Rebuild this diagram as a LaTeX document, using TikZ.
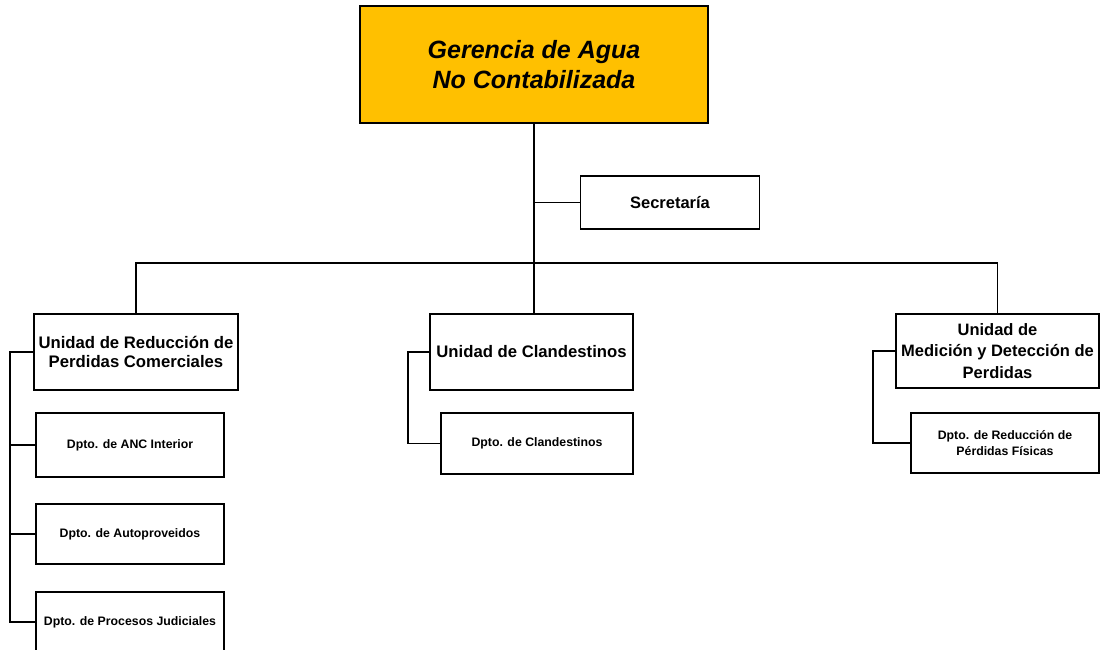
\documentclass[tikz,border=0pt]{standalone}
\usepackage{fontspec}
\setmainfont{Liberation Sans}
\definecolor{gold}{HTML}{FFC000}
\begin{document}
\begin{tikzpicture}[x=1pt,y=-1pt,
  box/.style={draw=black,line width=1.3pt,fill=white,inner sep=1pt,align=center,font=\bfseries},
  unitbox/.style={box,font=\bfseries\fontsize{16.7}{18.5}\selectfont},
  dptobox/.style={box,font=\bfseries\fontsize{12.3}{15.5}\selectfont},
  conn/.style={line width=1.3pt,black}]
\useasboundingbox (0,0) rectangle (1100,649);
\clip (0,0) rectangle (1100,649);
% nodes
\node[box,fill=gold,minimum width=348pt,minimum height=117pt,
  font=\bfseries\itshape\fontsize{25}{30}\selectfont] (top) at (534,64.5) {Gerencia de Agua\\ No Contabilizada};
\node[box,minimum width=179pt,minimum height=53pt,font=\bfseries\fontsize{16.5}{18}\selectfont] (sec) at (670,202.5) {Secretaría};
\node[unitbox,minimum width=204pt,minimum height=76pt] (unitL) at (136,352) {Unidad de Reducción de\\Perdidas Comerciales};
\node[dptobox,minimum width=188pt,minimum height=64pt] (dl1) at (130,445) {Dpto. de ANC Interior};
\node[dptobox,minimum width=188pt,minimum height=60pt] (dl2) at (130,534) {Dpto. de Autoproveidos};
\node[dptobox,minimum width=188pt,minimum height=60pt] (dl3) at (130,622) {Dpto. de Procesos Judiciales};
\node[unitbox,minimum width=203pt,minimum height=76pt] (unitC) at (531.5,352) {Unidad de Clandestinos};
\node[dptobox,minimum width=192pt,minimum height=61pt] (dc) at (537,443.5) {Dpto. de Clandestinos};
\node[unitbox,minimum width=203pt,minimum height=74pt,font=\bfseries\fontsize{16.5}{21.5}\selectfont] (unitR) at (997.5,351) {Unidad de\\Medición y Detección de\\Perdidas};
\node[dptobox,minimum width=188pt,minimum height=60pt] (dr) at (1005,443) {Dpto. de Reducción de\\Pérdidas Físicas};
% coordinates
\coordinate (bar) at (534,263);
\coordinate (lx) at (10,0);
\coordinate (cx) at (408,0);
\coordinate (rx) at (873,0);
% connectors
\draw[conn] (top.south) -- (top.south |- unitC.north);
\draw[conn] (top.south |- sec.west) -- (sec.west);
\draw[conn] (unitL.north) |- (bar) -| (unitR.north);
\draw[conn] (unitL.west) -- (unitL.west -| lx) |- (dl3.west);
\draw[conn] (lx |- dl1.west) -- (dl1.west);
\draw[conn] (lx |- dl2.west) -- (dl2.west);
\draw[conn] (unitC.west) -- (unitC.west -| cx) |- (dc.west);
\draw[conn] (unitR.west) -- (unitR.west -| rx) |- (dr.west);
\end{tikzpicture}
\end{document}
